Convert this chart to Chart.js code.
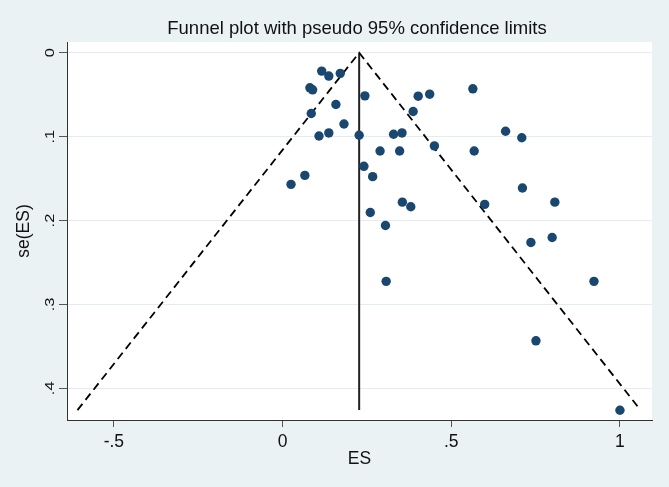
<!DOCTYPE html>
<html>
<head>
<meta charset="utf-8">
<script src="https://cdn.jsdelivr.net/npm/chart.js@4.4.0/dist/chart.umd.min.js"></script>
<style>
  body { margin: 0; background: #EAF2F3; }
  canvas { display: block; }
</style>
</head>
<body>
<canvas id="myChart" width="669" height="487"></canvas>
<script>
// estudios: efecto (ES) y error estandar se(ES)
var es = [0.116, 0.137, 0.171, 0.081, 0.089, 0.244, 0.402, 0.436, 0.158, 0.387,
          0.085, 0.182, 0.108, 0.137, 0.227, 0.329, 0.354, 0.661, 0.709, 0.289,
          0.347, 0.450, 0.568, 0.241, 0.267, 0.025, 0.066, 0.711, 0.807, 0.599,
          0.355, 0.380, 0.260, 0.305, 0.736, 0.799, 0.307, 0.923, 0.751, 1.000,
          0.564];
var se = [0.0219, 0.0278, 0.0246, 0.0418, 0.0442, 0.0514, 0.0518, 0.0494, 0.0617, 0.0700,
          0.0724, 0.0849, 0.0992, 0.0956, 0.0984, 0.0972, 0.0956, 0.0936, 0.1013, 0.1171,
          0.1171, 0.1111, 0.1171, 0.1354, 0.1477, 0.1569, 0.1462, 0.1613, 0.1781, 0.1808,
          0.1781, 0.1836, 0.1904, 0.2059, 0.2262, 0.2203, 0.2725, 0.2725, 0.3434, 0.4262,
          0.0430];

// limites del embudo (pseudo IC 95%) y efecto combinado
var funnelEs = [-0.608, 0.227, 1.061];
var funnelSe = [0.426, 0, 0.426];
var pooledEs = [0.227, 0.227];
var pooledSe = [0, 0.426];

var xTicks = [-0.5, 0, 0.5, 1];
var xTickLabels = ["-.5", "0", ".5", "1"];
var yTicks = [0, 0.1, 0.2, 0.3, 0.4];
var yTickLabels = ["0", ".1", ".2", ".3", ".4"];

var titulo = "Funnel plot with pseudo 95% confidence limits";
var tituloX = "ES";
var tituloY = "se(ES)";

function puntos(xs, ys){
    return xs.map(function(x, i){ return {x: x, y: ys[i]}; });
}

var fuente = "'Liberation Sans', Arial, sans-serif";

var textosStata = {
    id: 'textosStata',
    beforeDraw: function(chart){
        var ctx = chart.ctx, a = chart.chartArea;
        ctx.save();
        ctx.fillStyle = '#ffffff';
        ctx.fillRect(a.left, a.top, a.right - a.left, a.bottom - a.top);
        ctx.restore();
    },
    afterDraw: function(chart){
        var ctx = chart.ctx, a = chart.chartArea;
        var sx = chart.scales.x, sy = chart.scales.y;
        ctx.save();
        ctx.fillStyle = '#111';
        ctx.textAlign = 'center';
        ctx.textBaseline = 'alphabetic';

        // titulo
        ctx.font = "18.5px " + fuente;
        ctx.fillText(titulo, 357, 34.3);

        // etiquetas eje x
        ctx.font = "17.5px " + fuente;
        for (var i = 0; i < xTicks.length; i++) {
            ctx.fillText(xTickLabels[i], sx.getPixelForValue(xTicks[i]), 446.5);
        }
        ctx.fillText(tituloX, (a.left + a.right) / 2, 463.5);

        // etiquetas eje y (giradas)
        for (var j = 0; j < yTicks.length; j++) {
            ctx.save();
            ctx.translate(53.5, sy.getPixelForValue(yTicks[j]));
            ctx.rotate(-Math.PI / 2);
            ctx.scale(1, 0.8);
            ctx.font = "16.5px " + fuente;
            ctx.fillText(yTickLabels[j], 0, 0);
            ctx.restore();
        }
        ctx.save();
        ctx.translate(29, (a.top + a.bottom) / 2);
        ctx.rotate(-Math.PI / 2);
        ctx.font = "17.5px " + fuente;
        ctx.fillText(tituloY, 0, 0);
        ctx.restore();

        ctx.restore();
    }
};

var ctx = document.getElementById("myChart").getContext("2d");
var myChart = new Chart(ctx, {
    type: "scatter",
    data: {
        datasets: [
            {
                label: "Estudios",
                data: puntos(es, se),
                backgroundColor: "#1A476F",
                borderWidth: 0,
                pointRadius: 4.7,
                pointHoverRadius: 4.7
            },
            {
                label: "Limites 95%",
                data: puntos(funnelEs, funnelSe),
                showLine: true,
                borderColor: "#000",
                borderWidth: 1.8,
                borderDash: [8, 5],
                pointRadius: 0
            },
            {
                label: "Efecto",
                data: puntos(pooledEs, pooledSe),
                showLine: true,
                borderColor: "#222",
                borderWidth: 2,
                pointRadius: 0
            }
        ]
    },
    options: {
        responsive: false,
        animation: false,
        layout: { padding: { top: 42, right: 17, left: 0, bottom: 0 } },
        plugins: {
            legend: { display: false },
            tooltip: { enabled: false }
        },
        scales: {
            x: {
                type: "linear",
                min: -0.639,
                max: 1.095,
                afterBuildTicks: function(scale){
                    scale.ticks = xTicks.map(function(v){ return {value: v}; });
                },
                afterFit: function(scale){ scale.height = 67; },
                ticks: { display: false },
                grid: { drawOnChartArea: false, drawTicks: true, tickLength: 7, tickColor: "#555" },
                border: { display: true, color: "#333", width: 1 }
            },
            y: {
                type: "linear",
                reverse: true,
                min: -0.0128,
                max: 0.4378,
                afterBuildTicks: function(scale){
                    scale.ticks = yTicks.map(function(v){ return {value: v}; });
                },
                afterFit: function(scale){ scale.width = 67; },
                ticks: { display: false },
                grid: { color: "#E3ECEE", lineWidth: 1, drawTicks: true, tickLength: 8, tickColor: "#555" },
                border: { display: true, color: "#333", width: 1 }
            }
        }
    },
    plugins: [textosStata]
});
</script>
</body>
</html>
